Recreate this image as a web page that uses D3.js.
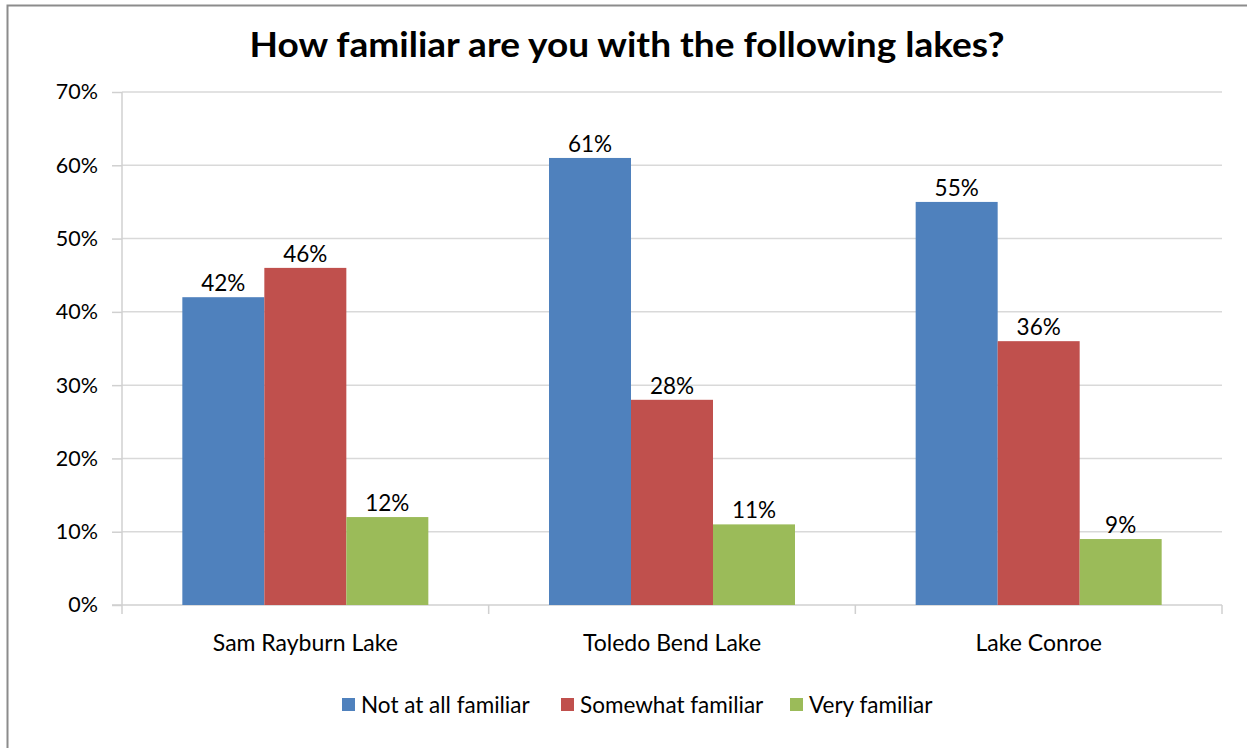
<!DOCTYPE html>
<html>
<head>
<meta charset="utf-8">
<script src="https://cdn.jsdelivr.net/npm/d3@7"></script>
<style>
  html, body { margin: 0; padding: 0; background: #fff; }
  svg { display: block; font-family: Lato, "Open Sans", sans-serif; }
</style>
</head>
<body>
<svg id="chart" width="1247" height="748"></svg>
<script>
// Survey results: familiarity with three Texas lakes
const lakes = ["Sam Rayburn Lake", "Toledo Bend Lake", "Lake Conroe"];
const seriesNames = ["Not at all familiar", "Somewhat familiar", "Very familiar"];
const notAtAll = [42, 61, 55];
const somewhat = [46, 28, 36];
const veryFamiliar = [12, 11, 9];
const yTicks = [0, 10, 20, 30, 40, 50, 60, 70];
const colors = ["#4F81BD", "#C0504D", "#9BBB59"];

const seriesValues = [notAtAll, somewhat, veryFamiliar];
const rows = lakes.map((lake, i) => ({
  lake,
  values: seriesNames.map((name, s) => ({ name, value: seriesValues[s][i], s }))
}));

const svg = d3.select("#chart");
const W = 1247, H = 748;
const margin = { left: 122, right: 25, top: 92, bottom: 143 };
const plotW = W - margin.left - margin.right;
const plotH = H - margin.top - margin.bottom;

// Outer chart frame (extends past the right and bottom edges)
svg.append("rect")
  .attr("x", 7.5).attr("y", 5.5)
  .attr("width", W + 20).attr("height", H + 20)
  .attr("fill", "none").attr("stroke", "#8c8c8c").attr("stroke-width", 2);

svg.append("text")
  .attr("x", 627).attr("y", 57)
  .attr("text-anchor", "middle")
  .attr("font-size", 35).attr("font-weight", "bold")
  .attr("textLength", 755).attr("lengthAdjust", "spacingAndGlyphs")
  .attr("fill", "#000")
  .text("How familiar are you with the following lakes?");

const g = svg.append("g").attr("transform", `translate(${margin.left},${margin.top})`);

const x0 = d3.scaleBand().domain(lakes).range([0, plotW]).paddingInner(0).paddingOuter(0);
const inner = 246 / 366.67;
const x1 = d3.scaleBand().domain(seriesNames)
  .range([x0.bandwidth() * (1 - inner) / 2, x0.bandwidth() * (1 + inner) / 2]);
const y = d3.scaleLinear().domain([0, 70]).range([plotH, 0]);

// Horizontal gridlines
g.append("g").selectAll("line").data(yTicks.filter(t => t > 0)).join("line")
  .attr("x1", 0).attr("x2", plotW)
  .attr("y1", d => y(d)).attr("y2", d => y(d))
  .attr("stroke", "#d9d9d9").attr("stroke-width", 1.5);

// Y axis
const yAxis = g.append("g")
  .call(d3.axisLeft(y).tickValues(yTicks).tickFormat(d => d + "%").tickSize(10).tickPadding(14));
yAxis.select(".domain").attr("stroke", "#d0d0d0").attr("stroke-width", 1.5).attr("d", `M0,0V${plotH}`);
yAxis.selectAll(".tick line").attr("stroke", "#d0d0d0").attr("stroke-width", 1.5);
yAxis.selectAll(".tick text").attr("font-size", 21.5).attr("fill", "#000")
  .attr("font-family", "Lato, sans-serif");

// X axis baseline and category separators
const xAxis = g.append("g").attr("transform", `translate(0,${plotH})`);
xAxis.append("line").attr("x1", -10).attr("x2", plotW)
  .attr("stroke", "#d0d0d0").attr("stroke-width", 1.5);
const seps = [0, ...lakes.map(l => x0(l) + x0.bandwidth())];
xAxis.selectAll("line.sep").data(seps).join("line").attr("class", "sep")
  .attr("x1", d => d).attr("x2", d => d).attr("y1", 0).attr("y2", 9)
  .attr("stroke", "#d0d0d0").attr("stroke-width", 1.5);
xAxis.selectAll("text").data(lakes).join("text")
  .attr("x", d => x0(d) + x0.bandwidth() / 2).attr("y", 46)
  .attr("text-anchor", "middle").attr("font-size", 23).attr("fill", "#000")
  .text(d => d);

// Bars
const groups = g.selectAll("g.lake").data(rows).join("g").attr("class", "lake")
  .attr("transform", d => `translate(${x0(d.lake)},0)`);
groups.selectAll("rect").data(d => d.values).join("rect")
  .attr("x", d => x1(d.name)).attr("width", x1.bandwidth())
  .attr("y", d => y(d.value)).attr("height", d => plotH - y(d.value))
  .attr("fill", d => colors[d.s]);

// Value labels
groups.selectAll("text").data(d => d.values).join("text")
  .attr("x", d => x1(d.name) + x1.bandwidth() / 2)
  .attr("y", d => y(d.value) - 6)
  .attr("text-anchor", "middle").attr("font-size", 22.5).attr("fill", "#000")
  .text(d => d.value + "%");

// Legend
const legendItems = [
  { name: seriesNames[0], x: 342 },
  { name: seriesNames[1], x: 561 },
  { name: seriesNames[2], x: 790 }
];
const legend = svg.append("g");
legendItems.forEach((item, i) => {
  legend.append("rect").attr("x", item.x).attr("y", 698).attr("width", 13).attr("height", 13)
    .attr("fill", colors[i]);
  legend.append("text").attr("x", item.x + 19).attr("y", 713)
    .attr("font-size", 22.5).attr("fill", "#000").text(item.name);
});
</script>
</body>
</html>
